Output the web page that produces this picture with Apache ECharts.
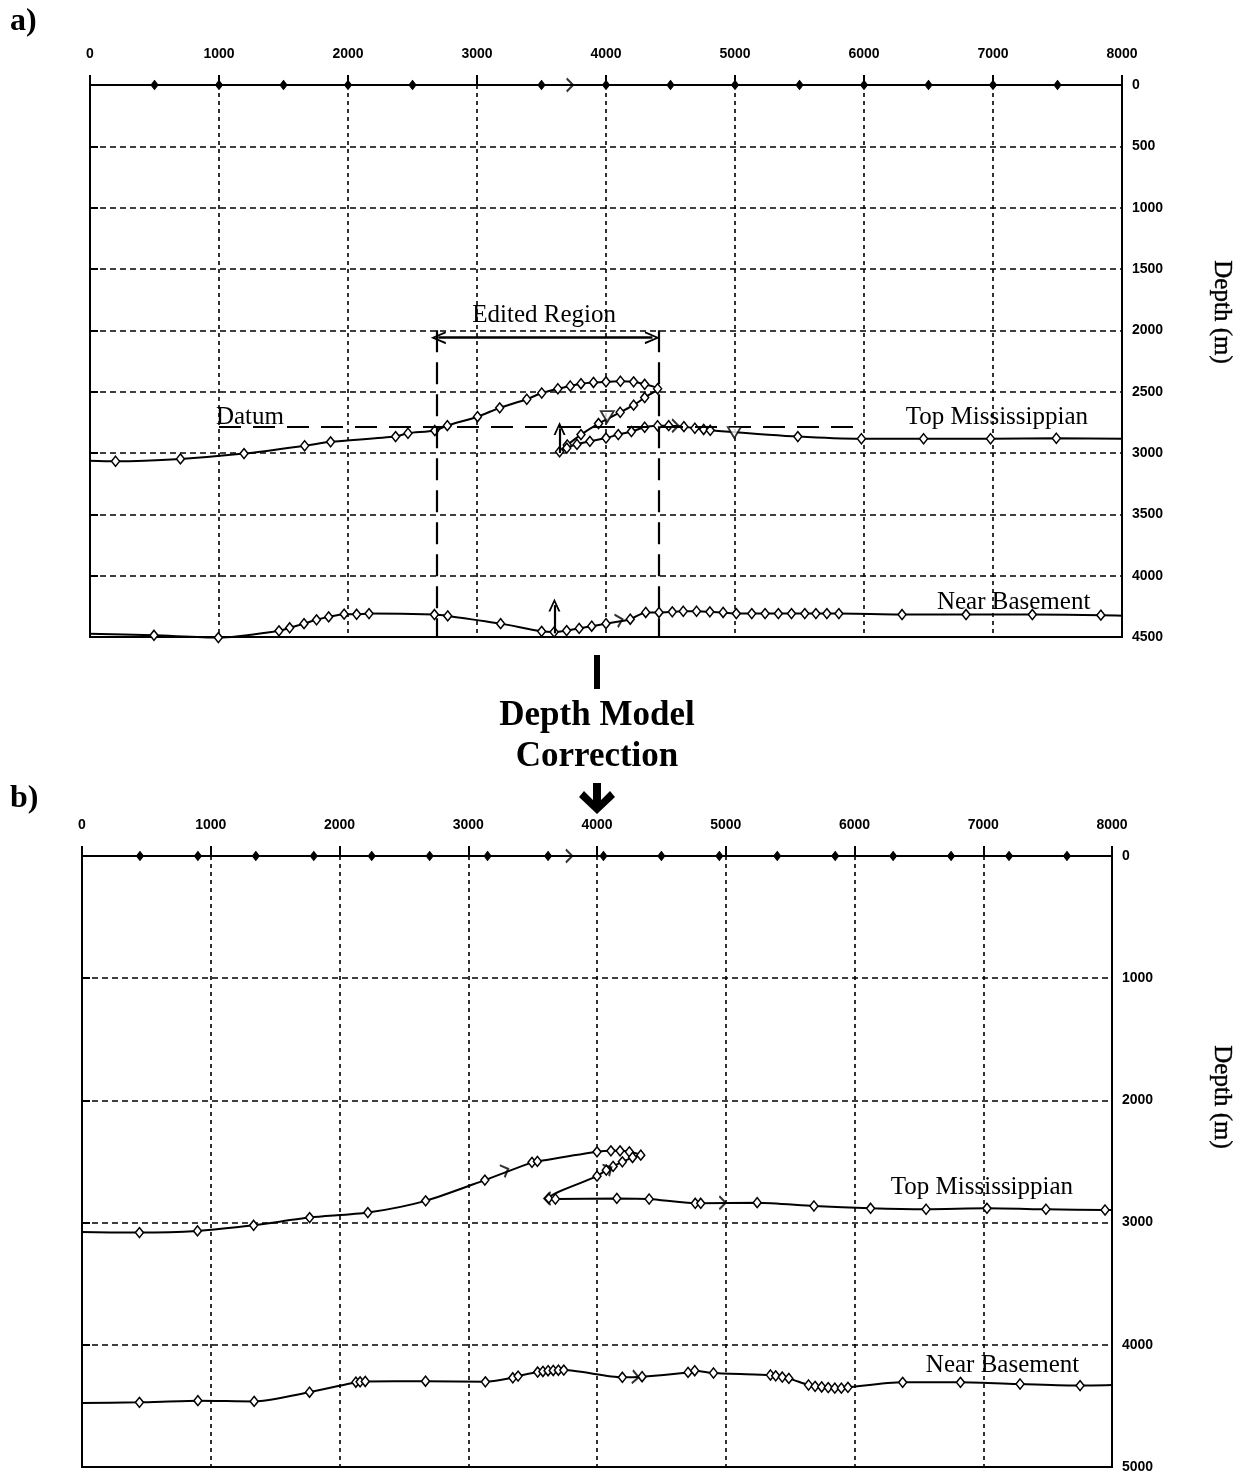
<!DOCTYPE html>
<html><head><meta charset="utf-8">
<script src="https://cdn.jsdelivr.net/npm/echarts@6/dist/echarts.min.js"></script>
<style>html,body{margin:0;padding:0;background:#fff}#c{width:1247px;height:1477px}</style>
</head><body><div id="c"></div>
<script>
// ---------------- data (distance m, depth m) ----------------
const surfaceMarkersA = [500,1000,1500,2000,2500,3500,4000,4500,5000,5500,6000,6500,7000,7500];
const surfaceMarkersB = [450,900,1350,1800,2250,2700,3150,3620,4050,4500,4950,5400,5850,6300,6750,7200,7650];

const topMissA = [
  [-40,3062],[198,3067],[701,3048],[1194,3005],[1664,2941],[1865,2909],[2369,2866],[2465,2839],
  [2673,2817],[2770,2777],[3004,2704],[3176,2632],[3386,2562],[3502,2511],[3627,2476],[3723,2454],
  [3806,2435],[3903,2425],[4000,2420],[4112,2415],[4214,2420],[4300,2440],[4400,2476],
  [4300,2548],[4214,2610],[4110,2668],[3942,2760],[3806,2850],[3700,2935],[3640,2990],
  [3696,2960],[3775,2930],[3875,2905],[4000,2878],[4095,2850],[4197,2825],[4300,2790],[4400,2778],
  [4486,2777],[4604,2785],[4689,2798],[4757,2808],[4808,2815],[5487,2866],[5980,2884],
  [6462,2884],[6981,2884],[7491,2880],[8051,2884]
];
const nearBaseA = [
  [-17,4473],[496,4486],[995,4505],[1465,4450],[1548,4425],[1659,4391],[1756,4360],[1850,4336],
  [1970,4314],[2067,4315],[2163,4309],[2670,4317],[2773,4328],[3183,4391],[3501,4454],[3598,4459],
  [3695,4448],[3792,4430],[3889,4412],[4000,4391],[4188,4355],[4308,4300],[4411,4300],[4514,4295],
  [4599,4290],[4702,4290],[4805,4295],[4908,4300],[5010,4309],[5130,4309],[5233,4309],[5336,4309],
  [5438,4309],[5541,4309],[5627,4309],[5712,4309],[5805,4309],[6295,4317],[6791,4317],[7305,4317],
  [7836,4322],[8092,4328]
];
const trianglesA = [[4010,2704],[4995,2833]];
const chevronsA = [[3720,0],[4537,2777],[4103,4362]];
const chevronAnglesA = [0,0,15];

const topMissB = [
  [-40,3077],[446,3082],[897,3068],[1333,3022],[1768,2959],[2220,2918],[2669,2822],[3129,2652],
  [3495,2507],[3537,2499],[4000,2421],[4108,2413],[4179,2413],[4251,2421],[4340,2448],
  [4276,2467],[4197,2503],[4125,2540],[4072,2571],[4000,2620],[3624,2802],
  [3677,2807],[4154,2802],[4405,2807],[4763,2842],[4806,2842],[5244,2837],[5685,2864],[6125,2883],
  [6556,2891],[7029,2883],[7487,2891],[7946,2897],[8036,2897]
];
const nearBaseB = [
  [-34,4477],[446,4471],[900,4457],[1337,4463],[1767,4388],[2127,4306],[2160,4303],[2200,4300],
  [2668,4298],[3133,4303],[3346,4270],[3387,4256],[3539,4223],[3580,4218],[3620,4212],[3660,4210],
  [3700,4208],[3742,4207],[4197,4266],[4350,4261],[4707,4226],[4759,4212],[4905,4231],[5347,4247],
  [5388,4254],[5439,4264],[5490,4275],[5643,4329],[5694,4340],[5745,4345],[5796,4350],[5847,4355],
  [5898,4355],[5949,4348],[6374,4307],[6823,4307],[7286,4321],[7752,4334],[8000,4329]
];
const chevronsB = [[3783,0],[3287,2570],[4090,2560],[3615,2802],[4975,2837],[4299,4264]];
const chevronAnglesB = [0,22,30,180,0,-5];

const datumDepth = 2790, datumX = [1000, 5980];
const editedX = [2690, 4410], editedDepth = [2000, 4500];
const editedArrowX = [2700, 4360], editedArrowDepth = 2060;
const upArrowTopMiss = [3640, 3000, 2800];
const upArrowBase = [3600, 4470, 4240];

const labelTextA = ['Edited Region','Datum','Top Mississippian','Near Basement'];
const labelPosA = [[3520,1880],[1240,2712],[7030,2712],[7160,4215]];
const labelTextB = ['Top Mississippian','Near Basement'];
const labelPosB = [[6990,2715],[7150,4170]];

// ---------------- helpers ----------------
const CHEV = 'path://M0,0 L10,7 L0,14';
const ARROWHEAD = 'path://M0,12 L6,0 L12,12 L10,12 L6,3.5 L2,12 Z';
function lineData(arr){
  return arr.map((p,i)=> (i===0||i===arr.length-1) ? {value:p, symbol:'none'} : {value:p});
}
function surface(xs){
  return [{value:[0,0],symbol:'none'}].concat(xs.map(x=>({value:[x,0]}))).concat([{value:[8000,0],symbol:'none'}]);
}
const curveBase = {
  type:'line', smooth:0.25, clip:false, symbol:'diamond', symbolSize:[8,10],
  lineStyle:{color:'#000',width:2}, itemStyle:{color:'#fff',borderColor:'#000',borderWidth:1.5},
  emphasis:{disabled:true}, animation:false, z:4
};
function curve(data, gi, extra){ return Object.assign({}, curveBase, {data:data, xAxisIndex:gi, yAxisIndex:gi}, extra||{}); }
function chevronSeries(pts, angles, gi){
  return {type:'scatter', xAxisIndex:gi, yAxisIndex:gi, clip:false, animation:false, z:6,
    symbol:CHEV, symbolSize:[9,13], symbolKeepAspect:true,
    itemStyle:{color:'transparent',borderColor:'#000',borderWidth:2},
    data: pts.map((p,i)=>({value:p, symbolRotate:angles[i]}))};
}
const tickLabel = {color:'#000', fontFamily:'Liberation Sans', fontWeight:'bold', fontSize:14,
  formatter: v => String(v)};
function xAx(gi){
  return {gridIndex:gi, type:'value', position:'top', min:0, max:8000, interval:1000,
    axisLine:{show:true, lineStyle:{color:'#000',width:2}},
    axisTick:{show:true, inside:false, length:10, lineStyle:{color:'#000',width:2}},
    axisLabel:Object.assign({margin:24}, tickLabel),
    splitLine:{show:true, lineStyle:{color:'#000', width:1.6, type:[4,4]}}};
}
function yAx(gi, max, interval){
  return {gridIndex:gi, type:'value', position:'right', inverse:true, min:0, max:max, interval:interval,
    axisLine:{show:true, lineStyle:{color:'#000',width:2}},
    axisTick:{show:true, inside:false, length:8, lineStyle:{color:'#000',width:2}},
    axisLabel:Object.assign({margin:10}, tickLabel),
    splitLine:{show:true, lineStyle:{color:'#000', width:1.6, type:[6,4]}}};
}

const staticGraphics = [
  {type:'text', x:10, y:6, style:{text:'a)', fontFamily:'Liberation Serif', fontWeight:'bold', fontSize:32, fill:'#000'}},
  {type:'text', x:10, y:783, style:{text:'b)', fontFamily:'Liberation Serif', fontWeight:'bold', fontSize:32, fill:'#000'}},
  {type:'rect', shape:{x:594, y:655, width:6, height:34}, style:{fill:'#000'}},
  {type:'text', x:597, y:716, style:{text:'Depth Model', textAlign:'center', textVerticalAlign:'middle', fontFamily:'Liberation Serif', fontWeight:'bold', fontSize:35, fill:'#000'}},
  {type:'text', x:597, y:757, style:{text:'Correction', textAlign:'center', textVerticalAlign:'middle', fontFamily:'Liberation Serif', fontWeight:'bold', fontSize:35, fill:'#000'}},
  {type:'polygon', shape:{points:[[593,783],[601,783],[601,800],[610,791],[615,797],[597,814],[579,797],[584,791],[593,800]]}, style:{fill:'#000'}},
  {type:'text', x:1222, y:312, rotation:-Math.PI/2, style:{text:'Depth (m)', textAlign:'center', textVerticalAlign:'middle', fontFamily:'Liberation Serif', fontSize:25, fill:'#000', stroke:'#000', lineWidth:0.4}},
  {type:'text', x:1222, y:1097, rotation:-Math.PI/2, style:{text:'Depth (m)', textAlign:'center', textVerticalAlign:'middle', fontFamily:'Liberation Serif', fontSize:25, fill:'#000', stroke:'#000', lineWidth:0.4}}
];

const chart = echarts.init(document.getElementById('c'), null, {renderer:'canvas'});
chart.setOption({
  backgroundColor:'#fff',
  animation:false,
  grid:[
    {left:90, top:85, width:1032, height:552, show:true, borderColor:'#000', borderWidth:2, backgroundColor:'transparent'},
    {left:82, top:856, width:1030, height:611, show:true, borderColor:'#000', borderWidth:2, backgroundColor:'transparent'}
  ],
  xAxis:[xAx(0), xAx(1)],
  yAxis:[yAx(0,4500,500), yAx(1,5000,1000)],
  graphic: staticGraphics,
  series:[
    curve(surface(surfaceMarkersA), 0, {smooth:false, itemStyle:{color:'#000',borderColor:'#000',borderWidth:1}, symbolSize:[7,9]}),
    curve(lineData(topMissA), 0, {
      markLine:{silent:true, animation:false, symbol:'none', label:{show:false}, lineStyle:{color:'#000'},
        data:[
          [{coord:[datumX[0],datumDepth], lineStyle:{type:[22,12],width:2.2,color:'#000'}},{coord:[datumX[1],datumDepth]}],
          [{coord:[editedX[0],editedDepth[0]], lineStyle:{type:[22,10],width:2.2,color:'#000'}},{coord:[editedX[0],editedDepth[1]]}],
          [{coord:[editedX[1],editedDepth[0]], lineStyle:{type:[22,10],width:2.2,color:'#000'}},{coord:[editedX[1],editedDepth[1]]}],
          [{coord:[editedArrowX[0],editedArrowDepth], symbol:ARROWHEAD, symbolSize:[13,15], lineStyle:{type:'solid',width:2.5,color:'#000'}},
           {coord:[editedArrowX[1],editedArrowDepth], symbol:ARROWHEAD, symbolSize:[13,15]}],
          [{coord:[upArrowTopMiss[0],upArrowTopMiss[1]], symbol:'none', lineStyle:{type:'solid',width:2.2,color:'#000'}},
           {coord:[upArrowTopMiss[0],upArrowTopMiss[2]], symbol:ARROWHEAD, symbolSize:[12,13]}]
        ]}
    }),
    curve(lineData(nearBaseA), 0, {
      markLine:{silent:true, animation:false, symbol:'none', label:{show:false},
        data:[
          [{coord:[upArrowBase[0],upArrowBase[1]], symbol:'none', lineStyle:{type:'solid',width:2.2,color:'#000'}},
           {coord:[upArrowBase[0],upArrowBase[2]], symbol:ARROWHEAD, symbolSize:[12,13]}]
        ]}
    }),
    {type:'scatter', xAxisIndex:0, yAxisIndex:0, animation:false, z:6, symbol:'triangle', symbolRotate:180,
      symbolSize:[13,11], itemStyle:{color:'#fff',borderColor:'#000',borderWidth:1.8}, data:trianglesA},
    chevronSeries(chevronsA, chevronAnglesA, 0),

    curve(surface(surfaceMarkersB), 1, {smooth:false, itemStyle:{color:'#000',borderColor:'#000',borderWidth:1}, symbolSize:[7,9]}),
    curve(lineData(topMissB), 1),
    curve(lineData(nearBaseB), 1),
    chevronSeries(chevronsB, chevronAnglesB, 1)
  ]
});

// annotation texts positioned through the axes' own scales
function labelGraphics(texts, pos, gi){
  return texts.map((t,i)=>{
    const p = chart.convertToPixel({gridIndex:gi}, pos[i]);
    return {type:'text', x:p[0], y:p[1], z:100,
      style:{text:t, textAlign:'center', textVerticalAlign:'middle', fontFamily:'Liberation Serif', fontSize:25, fill:'#000'}};
  });
}
chart.setOption({graphic: staticGraphics.concat(labelGraphics(labelTextA, labelPosA, 0), labelGraphics(labelTextB, labelPosB, 1))});
</script>
</body></html>
